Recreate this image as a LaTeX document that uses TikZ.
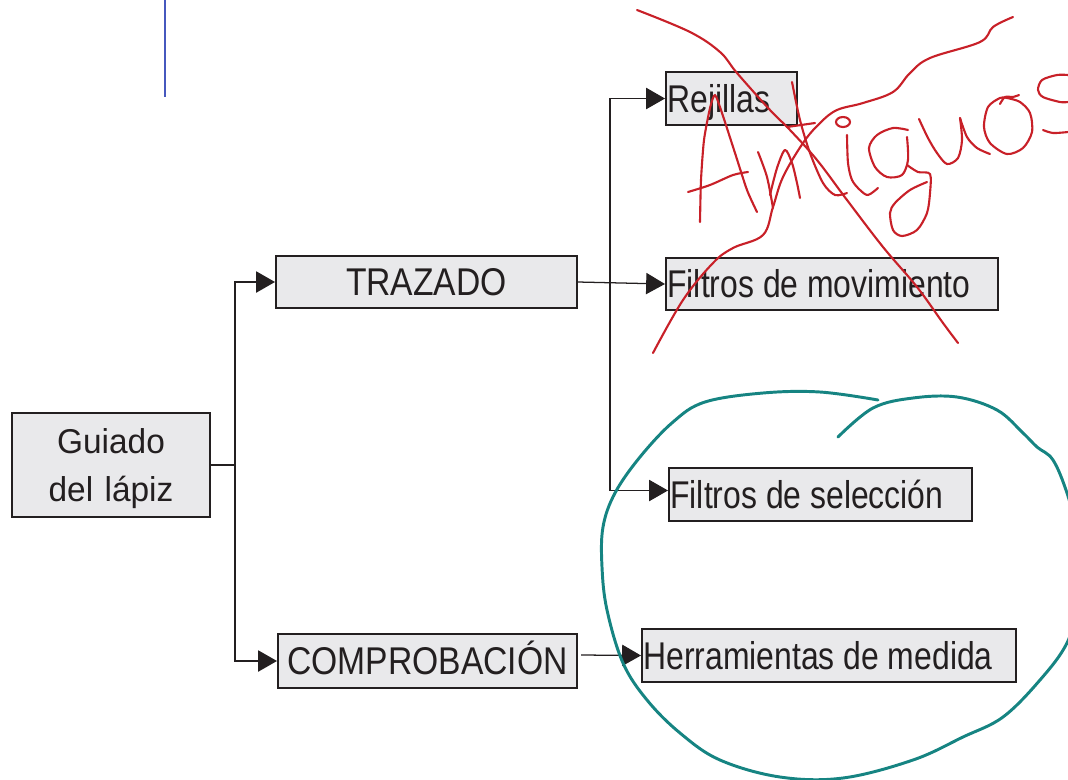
\documentclass[tikz,border=0pt]{standalone}
\usepackage{fontspec}
\setmainfont{Liberation Sans}
\newfontfamily\cajafont[FakeStretch=0.825]{Liberation Sans}
\newfontfamily\mayfont[FakeStretch=0.87]{Liberation Sans}
\newfontfamily\raizfont[FakeStretch=0.97]{Liberation Sans}
\protected\def\cajaespacio{\spaceskip=6.3pt\relax}
\usetikzlibrary{arrows.meta}
\definecolor{tinta}{RGB}{35,31,32}
\definecolor{fondocaja}{RGB}{233,233,235}
\definecolor{rojo}{RGB}{200,32,40}
\definecolor{verde}{RGB}{22,132,130}
\definecolor{azul}{RGB}{70,88,190}

\begin{document}
\begin{tikzpicture}[
    x=0.025cm, y=-0.025cm,
    box/.style={draw=tinta, fill=fondocaja, line width=1.4pt, text=tinta, inner xsep=1pt, inner ysep=0pt,
        minimum height=1.32cm, text height=19.7pt, text depth=0pt, align=left,
        font=\cajafont\fontsize{27.5}{34.4}\selectfont},
    spbox/.style={box, execute at begin node=\cajaespacio},
    arrow/.style={-{Triangle[length=0.47cm,width=0.53cm]}, draw=tinta, line width=0.9pt},
    conn/.style={draw=tinta, line width=0.9pt},
    mano/.style={draw=rojo, line width=1.5pt, line cap=round, line join=round},
    circulo/.style={draw=verde, line width=2.1pt, line cap=round, line join=round}
]
    \useasboundingbox (0,0) rectangle (1068,779);
    \clip (0,0) rectangle (1068,779);
    % linea azul
    \draw[azul, line width=1.4pt] (165,0) -- (165,97);
    % raiz
    \node[box, text width=4.95cm-2pt, align=center, minimum height=2.6cm, text height=17.5pt, text depth=34.4pt,
        font=\raizfont\fontsize{24.5}{34.4}\selectfont] (guiado) at (111,465) {Guiado\\del lápiz};
    % primer nivel
    \node[box, text width=7.525cm-2pt, align=center, font=\mayfont\fontsize{27.5}{34.4}\selectfont] (trazado) at (426.5,282) {TRAZADO};
    \node[box, text width=7.475cm-2pt, align=center, minimum height=1.35cm, font=\mayfont\fontsize{27.5}{34.4}\selectfont] (comprob) at (427.5,661) {COMPROBACIÓN};
    % segundo nivel
    \node[spbox, text width=3.275cm-2pt] (rejillas) at (731.5,98.5) {Rejillas};
    \node[spbox, text width=8.3cm-2pt] (movim) at (832,284) {Filtros de movimiento};
    \node[spbox, text width=7.575cm-2pt] (seleccion) at (820.5,494.5) {Filtros de selección};
    \node[spbox, text width=9.35cm-2pt] (herram) at (829,655.5) {Herramientas de medida};
    % ramas
    \coordinate (bifA) at (235,465);
    \coordinate (bifB) at (610,283);
    \draw[conn] (guiado.east) -- (bifA);
    \draw[arrow] (bifA) |- (trazado.west);
    \draw[arrow] (bifA) |- (comprob.west);
    \draw[arrow] (trazado.east) -- (movim.west);
    \draw[arrow] (bifB) |- (rejillas.west);
    \draw[arrow] (bifB) |- ([yshift=0.1cm]seleccion.west);
    \draw[arrow] ([xshift=0.08cm,yshift=0.15cm]comprob.east) -- (herram.west);
    % tachado a mano
    \draw[mano] plot[smooth, tension=0.6] coordinates {(637,10) (690,32) (720,52) (737,73) (770,110) (790,130) (817,160) (847,200) (883,247) (917,287) (943,323) (958,343)};
    \draw[mano] plot[smooth, tension=0.6] coordinates {(1013,17) (993,27) (980,42) (930,58) (910,73) (893,92) (863,103) (837,110) (820,123) (803,143) (783,177) (773,207) (763,235) (733,248) (713,263) (683,300) (653,353)};
    % "Antiguos"
    \draw[mano] plot[smooth, tension=0.4] coordinates {(700,222) (701,180) (704,140) (710,108) (715,95) (722,113) (735,153) (747,190) (757,212)};
    \draw[mano] plot[smooth, tension=0.5] coordinates {(688,192) (710,185) (733,175) (748,172)};
    \draw[mano] plot[smooth, tension=0.5] coordinates {(758,152) (767,177) (773,208)};
    \draw[mano] plot[smooth, tension=0.5] coordinates {(770,195) (777,168) (785,150) (792,163) (797,183) (800,198)};
    \draw[mano] plot[smooth, tension=0.5] coordinates {(792,82) (800,120) (810,153) (823,183) (835,195) (847,193)};
    \draw[mano] plot[smooth, tension=0.5] coordinates {(787,127) (815,123)};
    \draw[mano] (843,122) ellipse [x radius=7, y radius=5];
    \draw[mano] plot[smooth, tension=0.5] coordinates {(847,135) (848,163) (852,180) (860,190) (868,195) (878,188)};
    \draw[mano] plot[smooth, tension=0.5] coordinates {(908,130) (893,128) (877,135) (869,148) (875,167) (887,177) (902,175) (908,160) (907,137)};
    \draw[mano] plot[smooth, tension=0.5] coordinates {(907,165) (918,172) (930,174) (930,193) (927,213) (917,230) (902,236) (893,230) (890,213) (895,203) (910,190) (927,182)};
    \draw[mano] plot[smooth, tension=0.5] coordinates {(919,119) (928,138) (937,153) (947,164) (958,158) (962,140) (960,118)};
    \draw[mano] plot[smooth, tension=0.5] coordinates {(960,118) (967,137) (977,148) (990,154)};
    \draw[mano] plot[smooth cycle, tension=0.5] coordinates {(1000,98) (988,107) (984,127) (990,143) (1007,154) (1023,148) (1032,132) (1030,113) (1020,102) (1007,98)};
    \draw[mano] plot[smooth, tension=0.5] coordinates {(1000,104) (1005,97) (1013,97) (1019,95)};
    \draw[mano] plot[smooth, tension=0.5] coordinates {(1068,75) (1057,75) (1042,80) (1038,90) (1043,97) (1060,102) (1068,102)};
    \draw[mano] plot[smooth, tension=0.5] coordinates {(1043,130) (1053,133) (1068,132)};
    % circulo a mano
    \draw[circulo] plot[smooth, tension=0.6] coordinates {(878,400) (820,392) (763,393) (705,402) (673,422) (640,457) (615,493) (603,527) (602,567) (607,610) (623,663) (647,700) (680,733) (720,760) (780,777) (843,778) (913,760) (963,737) (1003,717) (1040,680) (1067,643) (1080,600)};
    \draw[circulo] plot[smooth, tension=0.6] coordinates {(1080,540) (1067,493) (1053,460) (1037,447) (1023,433) (997,410) (957,397) (913,398) (873,408) (838,437)};
\end{tikzpicture}
\end{document}
